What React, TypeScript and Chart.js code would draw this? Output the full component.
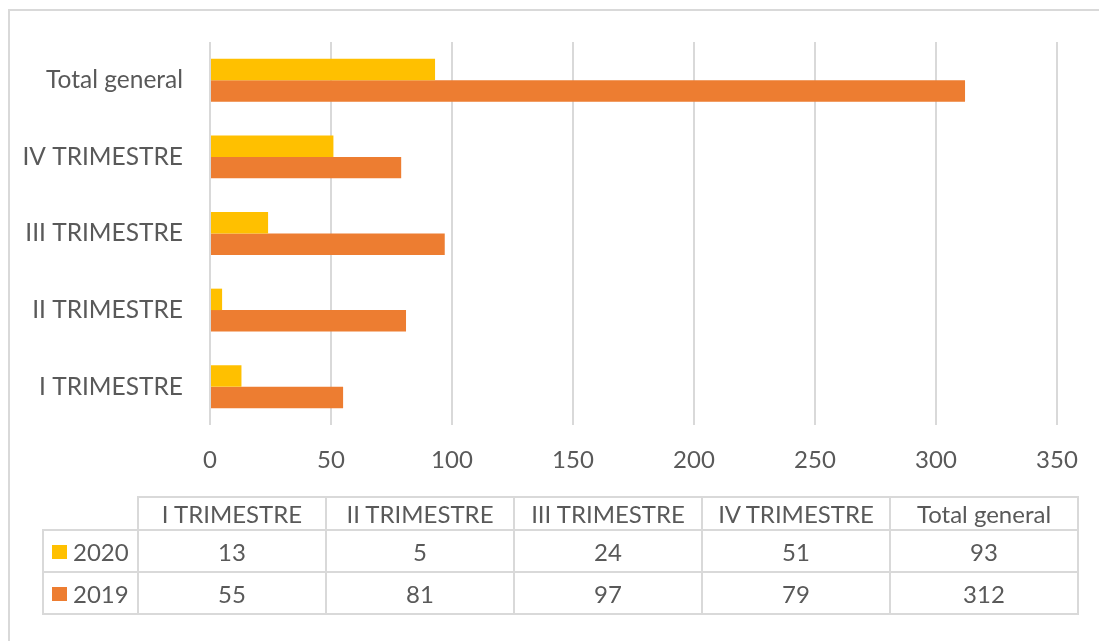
import React, { useEffect, useRef } from "react";
import { Chart, registerables } from "chart.js";

Chart.register(...registerables);

const categories = ["I TRIMESTRE", "II TRIMESTRE", "III TRIMESTRE", "IV TRIMESTRE", "Total general"];
const values2020 = [13, 5, 24, 51, 93];
const values2019 = [55, 81, 97, 79, 312];
const seriesNames = ["2020", "2019"];
const seriesColors = ["#FFC000", "#ED7D31"];
const xMin = 0;
const xMax = 350;
const xStep = 50;

const FONT = "Lato, 'Open Sans', sans-serif";
const TEXT = "#595959";
const GRID = "#d9d9d9";

export default function App() {
  const ref = useRef<HTMLCanvasElement | null>(null);

  useEffect(() => {
    if (!ref.current) return;
    const chart = new Chart(ref.current, {
      type: "bar",
      data: {
        labels: [...categories].reverse(),
        datasets: [
          {
            label: seriesNames[0],
            data: [...values2020].reverse(),
            backgroundColor: seriesColors[0],
            categoryPercentage: 0.56,
            barPercentage: 1,
          },
          {
            label: seriesNames[1],
            data: [...values2019].reverse(),
            backgroundColor: seriesColors[1],
            categoryPercentage: 0.56,
            barPercentage: 1,
          },
        ],
      },
      options: {
        indexAxis: "y",
        responsive: false,
        animation: false,
        layout: { padding: { top: 34, right: 42, left: 0, bottom: 0 } },
        plugins: { legend: { display: false }, tooltip: { enabled: false } },
        scales: {
          x: {
            min: xMin,
            max: xMax,
            ticks: { stepSize: xStep, color: TEXT, font: { size: 24, family: FONT }, padding: 21 },
            grid: { color: GRID, lineWidth: 2, drawTicks: false },
            border: { display: false },
            afterFit: (s: any) => {
              s.height = 63;
              s.paddingLeft = 0;
              s.paddingRight = 0;
            },
          },
          y: {
            ticks: { color: TEXT, font: { size: 24.5, family: FONT }, padding: 27 },
            grid: { display: false, drawTicks: false },
            border: { display: false },
            afterFit: (s: any) => {
              s.width = 202;
              s.paddingTop = 0;
              s.paddingBottom = 0;
            },
          },
        },
      },
    } as any);
    return () => chart.destroy();
  }, []);

  const cellBorder = `2px solid ${GRID}`;
  const td: React.CSSProperties = {
    border: cellBorder,
    padding: 0,
    textAlign: "center",
    verticalAlign: "middle",
    whiteSpace: "nowrap",
  };

  return (
    <div style={{ position: "relative", width: 1091, height: 633, overflow: "hidden", fontFamily: FONT }}>
      <div
        style={{
          position: "fixed",
          left: 8,
          top: 9,
          right: -10,
          bottom: -10,
          borderTop: cellBorder,
          borderLeft: cellBorder,
        }}
      />
      <canvas ref={ref} width={1091} height={480} style={{ position: "absolute", left: 0, top: 0 }} />
      <table
        style={{
          position: "absolute",
          left: 34,
          top: 488,
          borderCollapse: "collapse",
          tableLayout: "fixed",
          fontSize: 24,
          color: TEXT,
          fontFamily: FONT,
        }}
      >
        <colgroup>
          <col style={{ width: 95 }} />
          {categories.map((c) => (
            <col key={c} style={{ width: 188 }} />
          ))}
        </colgroup>
        <tbody>
          <tr style={{ height: 33 }}>
            <td style={{ border: "none", padding: 0 }} />
            {categories.map((c) => (
              <td key={c} style={td}>
                {c}
              </td>
            ))}
          </tr>
          {[values2020, values2019].map((vals, i) => (
            <tr key={seriesNames[i]} style={{ height: 42 }}>
              <td style={{ ...td, textAlign: "left", paddingLeft: 8 }}>
                <span
                  style={{
                    display: "inline-block",
                    width: 15,
                    height: 14,
                    background: seriesColors[i],
                    marginRight: 6,
                    verticalAlign: "middle",
                    position: "relative",
                    top: -2,
                  }}
                />
                {seriesNames[i]}
              </td>
              {vals.map((v, j) => (
                <td key={j} style={td}>
                  {v}
                </td>
              ))}
            </tr>
          ))}
        </tbody>
      </table>
    </div>
  );
}
